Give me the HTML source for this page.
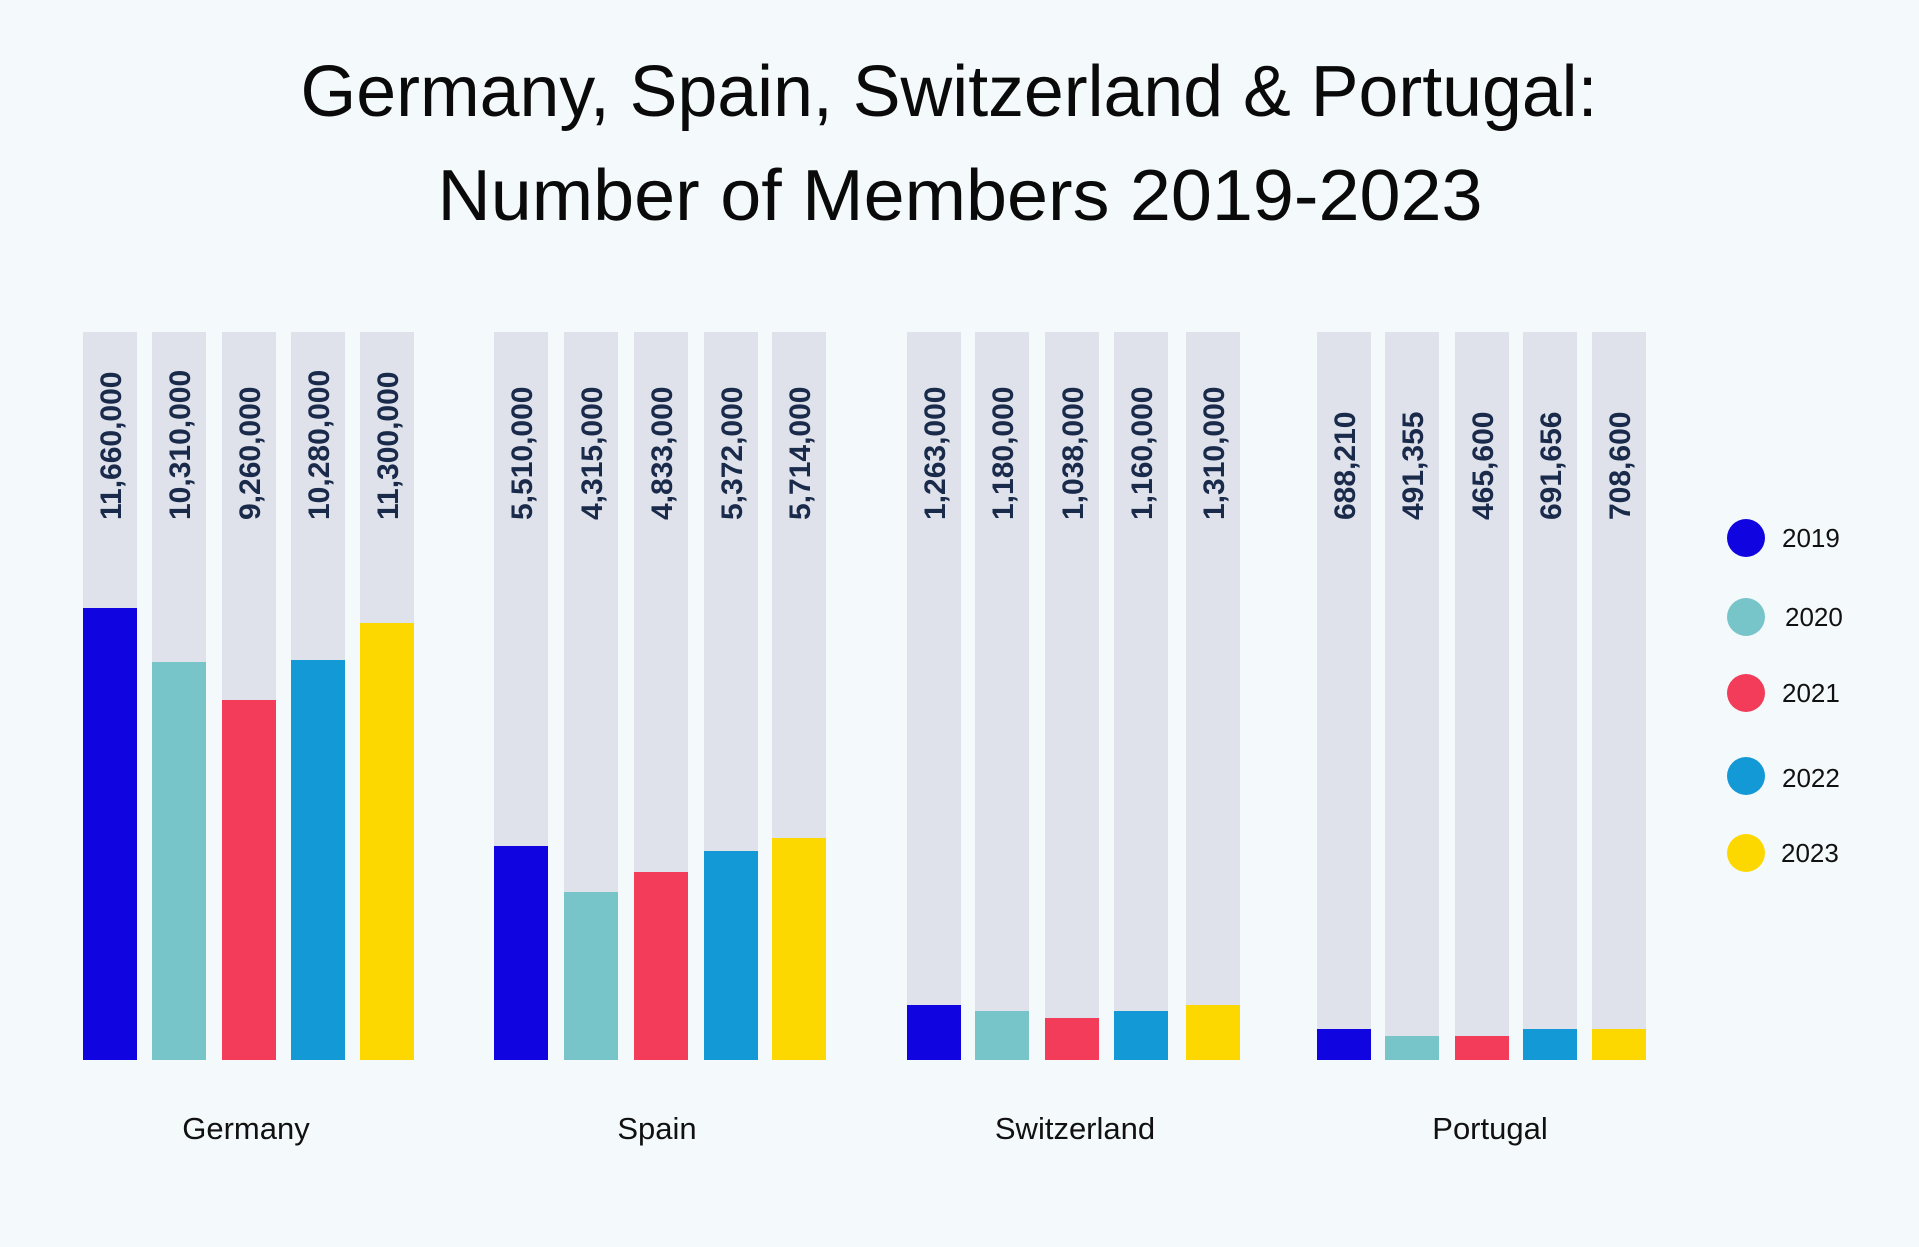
<!DOCTYPE html>
<html><head><meta charset="utf-8"><style>
html,body{margin:0;padding:0;background:#f4f9fb;}
svg{display:block;}
</style></head><body>
<svg width="1919" height="1247" viewBox="0 0 1919 1247" xmlns="http://www.w3.org/2000/svg">
<rect width="1919" height="1247" fill="#f4f9fb"/>
<g font-family="Liberation Sans, sans-serif" fill="#0a0a0a" text-anchor="middle">
<text x="949" y="116" font-size="72" textLength="1297" lengthAdjust="spacingAndGlyphs">Germany, Spain, Switzerland &amp; Portugal:</text>
<text x="960" y="220" font-size="72" textLength="1045" lengthAdjust="spacingAndGlyphs">Number of Members 2019-2023</text>
</g>
<g fill="#dfe2ea">
<rect x="83" y="332" width="54" height="728"/><rect x="152" y="332" width="54" height="728"/><rect x="222" y="332" width="54" height="728"/><rect x="291" y="332" width="54" height="728"/><rect x="360" y="332" width="54" height="728"/>
<rect x="494" y="332" width="54" height="728"/><rect x="564" y="332" width="54" height="728"/><rect x="634" y="332" width="54" height="728"/><rect x="704" y="332" width="54" height="728"/><rect x="772" y="332" width="54" height="728"/>
<rect x="907" y="332" width="54" height="728"/><rect x="975" y="332" width="54" height="728"/><rect x="1045" y="332" width="54" height="728"/><rect x="1114" y="332" width="54" height="728"/><rect x="1186" y="332" width="54" height="728"/>
<rect x="1317" y="332" width="54" height="728"/><rect x="1385" y="332" width="54" height="728"/><rect x="1455" y="332" width="54" height="728"/><rect x="1523" y="332" width="54" height="728"/><rect x="1592" y="332" width="54" height="728"/>
</g>
<rect x="83" y="608" width="54" height="452" fill="#1004e0"/>
<rect x="152" y="662" width="54" height="398" fill="#77c5c8"/>
<rect x="222" y="700" width="54" height="360" fill="#f33c59"/>
<rect x="291" y="660" width="54" height="400" fill="#1399d6"/>
<rect x="360" y="623" width="54" height="437" fill="#fdd800"/>
<rect x="494" y="846" width="54" height="214" fill="#1004e0"/>
<rect x="564" y="892" width="54" height="168" fill="#77c5c8"/>
<rect x="634" y="872" width="54" height="188" fill="#f33c59"/>
<rect x="704" y="851" width="54" height="209" fill="#1399d6"/>
<rect x="772" y="838" width="54" height="222" fill="#fdd800"/>
<rect x="907" y="1005" width="54" height="55" fill="#1004e0"/>
<rect x="975" y="1011" width="54" height="49" fill="#77c5c8"/>
<rect x="1045" y="1018" width="54" height="42" fill="#f33c59"/>
<rect x="1114" y="1011" width="54" height="49" fill="#1399d6"/>
<rect x="1186" y="1005" width="54" height="55" fill="#fdd800"/>
<rect x="1317" y="1029" width="54" height="31" fill="#1004e0"/>
<rect x="1385" y="1036" width="54" height="24" fill="#77c5c8"/>
<rect x="1455" y="1036" width="54" height="24" fill="#f33c59"/>
<rect x="1523" y="1029" width="54" height="31" fill="#1399d6"/>
<rect x="1592" y="1029" width="54" height="31" fill="#fdd800"/>
<g font-family="Liberation Sans, sans-serif" font-weight="bold" font-size="30" fill="#1a2a4a">
<text transform="translate(121,520) rotate(-90)">11,660,000</text>
<text transform="translate(190,520) rotate(-90)">10,310,000</text>
<text transform="translate(260,520) rotate(-90)">9,260,000</text>
<text transform="translate(329,520) rotate(-90)">10,280,000</text>
<text transform="translate(398,520) rotate(-90)">11,300,000</text>
<text transform="translate(532,520) rotate(-90)">5,510,000</text>
<text transform="translate(602,520) rotate(-90)">4,315,000</text>
<text transform="translate(672,520) rotate(-90)">4,833,000</text>
<text transform="translate(742,520) rotate(-90)">5,372,000</text>
<text transform="translate(810,520) rotate(-90)">5,714,000</text>
<text transform="translate(945,520) rotate(-90)">1,263,000</text>
<text transform="translate(1013,520) rotate(-90)">1,180,000</text>
<text transform="translate(1083,520) rotate(-90)">1,038,000</text>
<text transform="translate(1152,520) rotate(-90)">1,160,000</text>
<text transform="translate(1224,520) rotate(-90)">1,310,000</text>
<text transform="translate(1355,520) rotate(-90)">688,210</text>
<text transform="translate(1423,520) rotate(-90)">491,355</text>
<text transform="translate(1493,520) rotate(-90)">465,600</text>
<text transform="translate(1561,520) rotate(-90)">691,656</text>
<text transform="translate(1630,520) rotate(-90)">708,600</text>
</g>
<g font-family="Liberation Sans, sans-serif" font-size="31" fill="#111" text-anchor="middle">
<text x="246" y="1139">Germany</text>
<text x="657" y="1139">Spain</text>
<text x="1075" y="1139">Switzerland</text>
<text x="1490" y="1139">Portugal</text>
</g>
<circle cx="1746" cy="538" r="19" fill="#1004e0"/>
<circle cx="1746" cy="617" r="19" fill="#77c5c8"/>
<circle cx="1746" cy="693" r="19" fill="#f33c59"/>
<circle cx="1746" cy="776" r="19" fill="#1399d6"/>
<circle cx="1746" cy="853" r="19" fill="#fdd800"/>
<g font-family="Liberation Sans, sans-serif" font-size="26" fill="#111">
<text x="1782" y="547">2019</text>
<text x="1785" y="626">2020</text>
<text x="1782" y="702">2021</text>
<text x="1782" y="787">2022</text>
<text x="1781" y="862">2023</text>
</g>
</svg>
</body></html>
